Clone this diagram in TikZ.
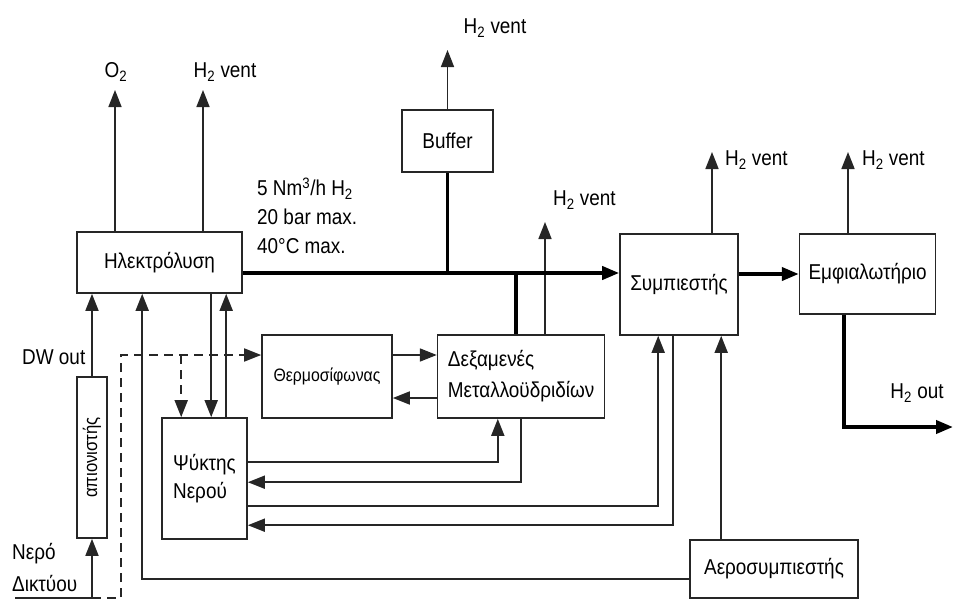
\documentclass[tikz,border=0pt]{standalone}
\usepackage{fontspec}
\setmainfont{Liberation Sans}[FakeStretch=0.88]
\usetikzlibrary{arrows.meta, positioning}

\begin{document}
\begin{tikzpicture}[x=1pt, y=-1pt,
    >={Triangle[length=17pt,width=13pt]},
    every node/.style={font=\fontsize{21.5}{28}\selectfont},
    box/.style={draw=black!85, line width=1.6pt, fill=white, inner sep=2pt},
    pipe/.style={draw=black!85, line width=1.7pt},
    mainpipe/.style={draw=black, line width=3.8pt},
    water/.style={pipe, dash pattern=on 9pt off 6pt},
    lbl/.style={inner sep=0pt}]
    \useasboundingbox (0,0) rectangle (955,600);

    \node[box, minimum width=165pt, minimum height=61pt] (elec) at (159.5,262.5) {Ηλεκτρόλυση};
    \node[box, minimum width=91pt, minimum height=62pt] (buffer) at (447.5,141) {Buffer};
    \node[box, minimum width=130pt, minimum height=83pt, font=\fontsize{18}{20}\selectfont] (thermo) at (327,376.5) {Θερμοσίφωνας};
    \node[box, minimum width=167pt, minimum height=83pt, align=left, font=\fontsize{21.5}{31}\selectfont, right=44pt of thermo] (tanks) {Δεξαμενές\\Μεταλλοϋδριδίων};
    \node[box, minimum width=118pt, minimum height=101pt] (comp) at (679,284.5) {Συμπιεστής};
    \node[box, minimum width=136pt, minimum height=80pt, right=60pt of comp.north east, anchor=north west] (bottler) {Εμφιαλωτήριο};
    \node[box, minimum width=85pt, minimum height=121pt, align=left] (chiller) at (204.5,478.5) {Ψύκτης\\Νερού};
    \node[box, rotate=90, minimum width=161pt, minimum height=30pt, inner sep=0pt, font=\fontsize{19}{20}\selectfont] (deion) at (92,457.5) {απιονιστής};
    \node[box, minimum width=168pt, minimum height=58pt] (aircomp) at (774,569) {Αεροσυμπιεστής};

    \node[lbl] (o2lbl) at (116,72) {O\textsubscript{2}};
    \node[lbl] (vent1) at (225,72) {H\textsubscript{2} vent};
    \node[lbl] (vent2) at (495,28) {H\textsubscript{2} vent};
    \node[lbl, anchor=west] (vent3) at (553,200) {H\textsubscript{2} vent};
    \node[lbl, anchor=west] (vent4) at (725,160) {H\textsubscript{2} vent};
    \node[lbl, anchor=west] (vent5) at (862,160) {H\textsubscript{2} vent};
    \node[lbl] (outlbl) at (917,393) {H\textsubscript{2} out};
    \node[lbl, anchor=west] (dwlbl) at (22,357) {DW out};
    \node[lbl, anchor=west, align=left, font=\fontsize{21.5}{32}\selectfont] (netlbl) at (12,567) {Νερό\\Δικτύου};
    \node[lbl, anchor=west, align=left, font=\fontsize{21.5}{29}\selectfont] (spec) at (257,216) {5 Nm\textsuperscript{3}/h H\textsubscript{2}\\20 bar max.\\40°C max.};

    \coordinate (o2end) at (115,90);
    \coordinate (vent1end) at (203,90);
    \coordinate (vent2end) at (447.5,50);
    \coordinate (vent3end) at (545,222);
    \coordinate (vent4end) at (712,152);
    \coordinate (vent5end) at (848,152);
    \coordinate (h2main) at ([yshift=-10.5pt]elec.east);
    \coordinate (h2out) at (953,427);
    \coordinate (netin) at (15,598);
    \coordinate (netbend) at (121,598);

    \draw[pipe, ->] (elec.north -| o2end) -- (o2end);
    \draw[pipe, ->] (elec.north -| vent1end) -- (vent1end);
    \draw[pipe, ->] (buffer.north) -- (vent2end);
    \draw[pipe, ->] (tanks.north -| vent3end) -- (vent3end);
    \draw[pipe, ->] (comp.north -| vent4end) -- (vent4end);
    \draw[pipe, ->] (bottler.north -| vent5end) -- (vent5end);

    \draw[mainpipe, ->] (h2main) -- (h2main -| comp.west);
    \draw[mainpipe] (buffer.south) -- (buffer.south |- h2main);
    \draw[mainpipe] ([xshift=79pt]tanks.north west) -- ++(0,-62);
    \draw[mainpipe, ->] (comp.east |- bottler.west) -- (bottler.west);
    \draw[mainpipe, ->] ([xshift=45pt]bottler.south west) |- (h2out);

    \draw[pipe, ->] ([yshift=21.5pt]thermo.east) -- ([yshift=21.5pt]tanks.west);
    \draw[pipe, ->] ([yshift=-21.5pt]tanks.west) -- ([yshift=-21.5pt]thermo.east);

    \draw[pipe, ->] ([yshift=-45pt]chiller.north east) -| ([xshift=61pt]tanks.south west);
    \draw[pipe, ->] ([xshift=84pt]tanks.south west) |- ([yshift=-65pt]chiller.north east);
    \draw[pipe, ->] ([yshift=-89pt]chiller.north east) -| ([xshift=39pt]comp.south west);
    \draw[pipe, ->] ([xshift=54pt]comp.south west) |- ([yshift=-108pt]chiller.north east);
    \draw[pipe, ->] ([xshift=32pt]aircomp.north west) -- ([xshift=102pt]comp.south west);
    \draw[pipe, ->] ([yshift=-10pt]aircomp.west) -| ([xshift=66pt]elec.south west);
    \draw[pipe, ->] ([xshift=135pt]elec.south west) -- ([xshift=50pt]chiller.north west);
    \draw[pipe, ->] ([xshift=65pt]chiller.north west) -- ([xshift=150pt]elec.south west);

    \draw[pipe, ->] (deion.east) -- (deion.east |- elec.south);
    \draw[pipe, ->] (netin) -| (deion.west);
    \draw[water, ->] (deion.west |- netin) -- (netbend) |- ([yshift=21.5pt]thermo.west);
    \draw[water, ->] ([xshift=20pt]chiller.north west) ++(0,-62) -- ([xshift=20pt]chiller.north west);
\end{tikzpicture}
\end{document}
